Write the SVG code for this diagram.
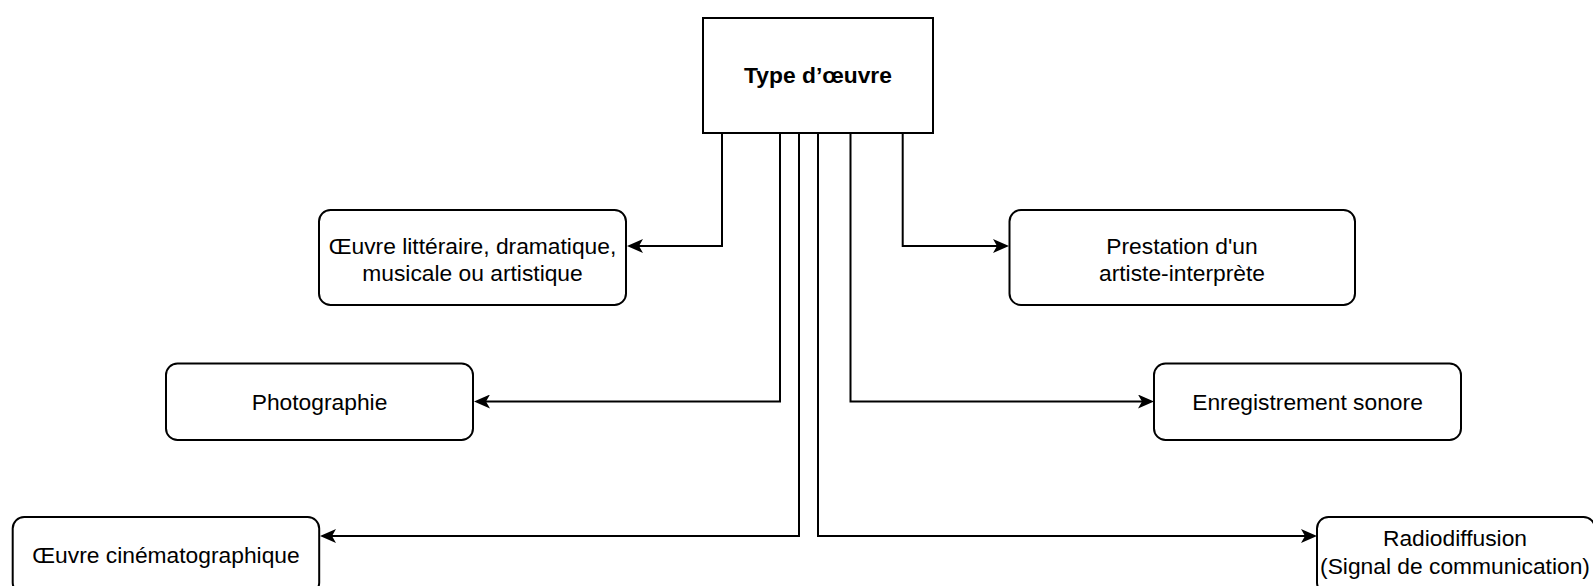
<svg xmlns="http://www.w3.org/2000/svg" width="1593" height="586" viewBox="0 0 1593 586">
<style>
.box{fill:#fff;stroke:#000;stroke-width:2}
.t{font-family:"Liberation Sans",Arial,Helvetica,sans-serif;font-size:22.8px;fill:#000;text-anchor:middle}
.b{font-weight:bold}
.c{fill:none;stroke:#000;stroke-width:2;marker-end:url(#arr)}
</style>
<defs>
<marker id="arr" markerUnits="userSpaceOnUse" markerWidth="16" markerHeight="14" viewBox="0 0 16 14" refX="4" refY="7" orient="auto">
<path d="M0,0 L16,7 L0,14 L4,7 Z" fill="#000"/>
</marker>
</defs>
<rect width="1593" height="586" fill="#fff"/>
<g id="connectors">
<path class="c" d="M722,133 V246 H639"/>
<path class="c" d="M902.7,133 V246 H997"/>
<path class="c" d="M780,133 V401.5 H486"/>
<path class="c" d="M850.5,133 V401.5 H1142"/>
<path class="c" d="M799,133 V536 H332"/>
<path class="c" d="M818,133 V536 H1305"/>
</g>
<g id="type">
<rect class="box" x="703" y="18" width="230" height="115"/>
<text class="t b" x="818" y="83">Type d’œuvre</text>
</g>
<g id="litteraire">
<rect class="box" x="319" y="210" width="307" height="95" rx="11.5"/>
<text class="t" x="472.5" y="253.5">Œuvre littéraire, dramatique,</text>
<text class="t" x="472.5" y="281">musicale ou artistique</text>
</g>
<g id="prestation">
<rect class="box" x="1009.5" y="210" width="345.5" height="95" rx="11.5"/>
<text class="t" x="1182" y="253.5">Prestation d'un</text>
<text class="t" x="1182" y="281">artiste-interprète</text>
</g>
<g id="photographie">
<rect class="box" x="166" y="363.5" width="307" height="76.5" rx="11.5"/>
<text class="t" x="319.5" y="409.5">Photographie</text>
</g>
<g id="enregistrement">
<rect class="box" x="1154" y="363.5" width="307" height="76.5" rx="11.5"/>
<text class="t" x="1307.5" y="409.5">Enregistrement sonore</text>
</g>
<g id="cinematographique">
<rect class="box" x="12.7" y="517" width="306.5" height="77" rx="11.5"/>
<text class="t" x="166" y="563">Œuvre cinématographique</text>
</g>
<g id="radiodiffusion">
<rect class="box" x="1317" y="517" width="278" height="77" rx="11.5"/>
<text class="t" x="1455" y="546">Radiodiffusion</text>
<text class="t" x="1455" y="573.5">(Signal de communication)</text>
</g>
</svg>
